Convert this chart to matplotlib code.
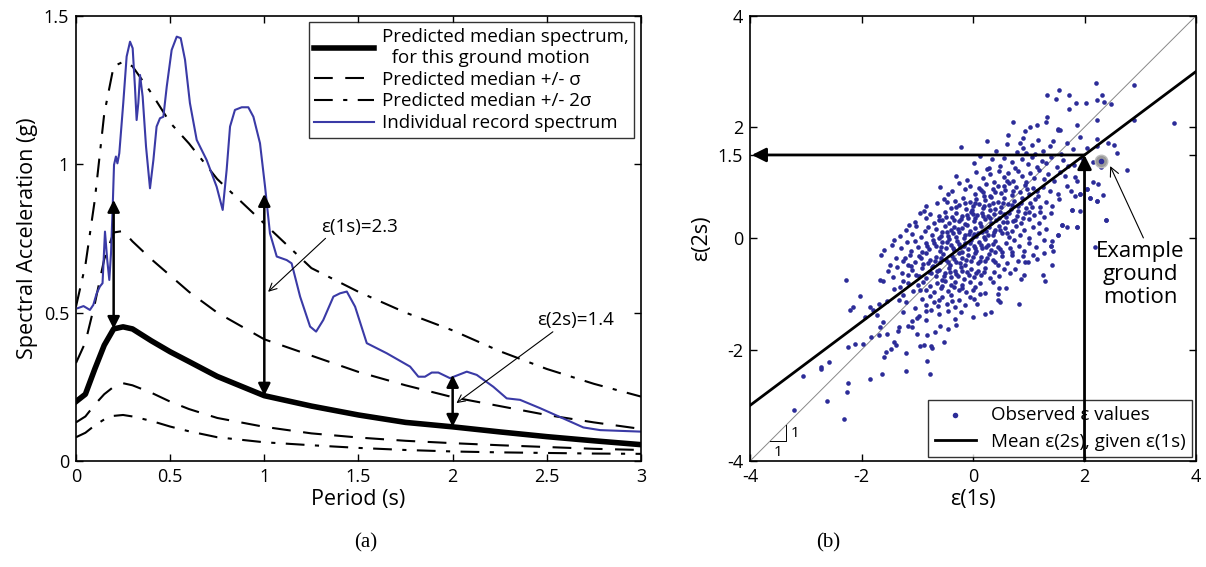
import numpy as np
import matplotlib.pyplot as plt
from matplotlib.ticker import FormatStrFormatter

plt.rcParams['font.family'] = ['Open Sans', 'DejaVu Sans']
plt.rcParams['axes.unicode_minus'] = False

# --- (a) predicted spectrum and one record ---
T_pred = [0, 0.05, 0.1, 0.15, 0.2, 0.25, 0.3, 0.4, 0.5, 0.6, 0.75, 1.0,
          1.25, 1.5, 1.75, 2.0, 2.25, 2.5, 2.75, 3.0]
sa_median = [0.20, 0.225, 0.31, 0.39, 0.445, 0.452, 0.445, 0.405, 0.368, 0.335,
             0.285, 0.22, 0.185, 0.155, 0.13, 0.115, 0.098, 0.082, 0.068, 0.055]
sa_plus1 = [0.33, 0.40, 0.53, 0.68, 0.77, 0.775, 0.74, 0.68, 0.625, 0.57,
            0.50, 0.41, 0.355, 0.30, 0.255, 0.215, 0.185, 0.155, 0.13, 0.108]
sa_plus2 = [0.52, 0.66, 0.88, 1.17, 1.33, 1.345, 1.33, 1.24, 1.14, 1.07,
            0.95, 0.80, 0.65, 0.57, 0.50, 0.44, 0.37, 0.31, 0.26, 0.217]
sa_minus1 = [0.13, 0.15, 0.19, 0.225, 0.25, 0.262, 0.255, 0.23, 0.20, 0.175,
             0.145, 0.115, 0.093, 0.079, 0.068, 0.06, 0.053, 0.047, 0.041, 0.037]
sa_minus2 = [0.08, 0.095, 0.12, 0.14, 0.152, 0.155, 0.15, 0.135, 0.116, 0.10,
             0.08, 0.063, 0.053, 0.044, 0.037, 0.032, 0.029, 0.027, 0.025, 0.024]

T_rec = [0.01, 0.04, 0.074, 0.092, 0.11, 0.127, 0.141, 0.154, 0.166, 0.177,
         0.186, 0.195, 0.202, 0.212, 0.22, 0.23, 0.251, 0.269, 0.287, 0.301,
         0.313, 0.322, 0.331, 0.340, 0.354, 0.372, 0.393, 0.411, 0.428, 0.446,
         0.464, 0.482, 0.508, 0.535, 0.556, 0.579, 0.605, 0.641, 0.694, 0.747,
         0.779, 0.80, 0.818, 0.844, 0.88, 0.915, 0.942, 0.977, 1.004, 1.03,
         1.066, 1.119, 1.145, 1.19, 1.243, 1.275, 1.313, 1.367, 1.402, 1.438,
         1.482, 1.544, 1.65, 1.774, 1.818, 1.853, 1.889, 1.924, 1.986, 2.075,
         2.128, 2.216, 2.287, 2.358, 2.464, 2.606, 2.694, 2.783, 2.995]
sa_rec = [0.515, 0.522, 0.509, 0.526, 0.565, 0.588, 0.599, 0.773, 0.677, 0.61,
          0.70, 0.857, 0.998, 1.026, 1.003, 1.037, 1.206, 1.363, 1.413, 1.391,
          1.262, 1.149, 1.206, 1.301, 1.228, 1.059, 0.919, 1.014, 1.127, 1.155,
          1.160, 1.262, 1.385, 1.43, 1.425, 1.352, 1.206, 1.082, 1.014, 0.924,
          0.846, 0.981, 1.127, 1.183, 1.192, 1.192, 1.160, 1.071, 0.924, 0.767,
          0.689, 0.677, 0.666, 0.554, 0.453, 0.436, 0.475, 0.554, 0.565, 0.571,
          0.52, 0.397, 0.363, 0.318, 0.284, 0.284, 0.298, 0.298, 0.279, 0.301,
          0.29, 0.25, 0.211, 0.206, 0.178, 0.138, 0.113, 0.104, 0.099]

# epsilon arrows: period, bottom (median), top (record)
eps_T = [0.2, 1.0, 2.0]
eps_bot = [0.445, 0.22, 0.115]
eps_top = [0.88, 0.90, 0.29]

# --- (b) observed epsilon pairs (eps at 1 s, eps at 2 s) ---
obs_pairs = [
    # upper tail
    (2.20, 2.79), (2.89, 2.76), (1.33, 2.58), (1.55, 2.66), (1.72, 2.58), (1.48, 2.51),
    (1.84, 2.43), (2.32, 2.58), (2.22, 2.48), (2.35, 2.45), (2.48, 2.42), (1.72, 2.33),
    (2.02, 2.43), (2.22, 2.12), (2.89, 2.12), (3.61, 2.08), (0.72, 2.10), (1.33, 2.18),
    (1.30, 2.10), (1.14, 2.03), (1.03, 2.01), (1.86, 2.03), (1.52, 1.97), (0.93, 1.93),
    (1.52, 1.94), (1.56, 1.94), (1.92, 1.82), (1.44, 1.75), (1.17, 1.77), (0.84, 1.72),
    (0.90, 1.81), (0.63, 1.85), (2.22, 1.78),
    # 1.5 .. 1.75
    (-0.21, 1.64), (0.25, 1.76), (0.42, 1.58), (0.61, 1.70), (0.78, 1.55), (0.90, 1.62),
    (1.05, 1.68), (1.25, 1.57), (1.38, 1.66), (1.58, 1.52), (1.69, 1.72), (1.80, 1.60),
    (2.05, 1.63), (2.43, 1.72), (2.53, 1.68), (2.23, 1.66), (0.95, 1.53), (1.12, 1.51),
    # 1.25 .. 1.5
    (0.13, 1.48), (0.34, 1.42), (0.02, 1.35), (0.48, 1.30), (0.55, 1.45), (0.70, 1.38),
    (0.76, 1.27), (0.88, 1.43), (0.98, 1.33), (1.06, 1.47), (1.15, 1.29), (1.23, 1.40),
    (1.31, 1.35), (1.40, 1.47), (1.50, 1.28), (1.62, 1.41), (1.70, 1.30), (1.82, 1.32),
    (2.15, 1.37), (2.29, 1.28), (2.59, 1.54), (0.28, 1.26), (1.95, 1.45),
    # 1.0 .. 1.25
    (-0.30, 1.12), (-0.10, 1.05), (0.05, 1.20), (0.18, 1.08), (0.30, 1.15), (0.38, 1.02),
    (0.47, 1.22), (0.56, 1.10), (0.63, 1.17), (0.72, 1.04), (0.80, 1.21), (0.87, 1.12),
    (0.95, 1.01), (1.02, 1.18), (1.10, 1.08), (1.18, 1.23), (1.27, 1.06), (1.35, 1.15),
    (1.45, 1.03), (1.56, 1.20), (1.83, 1.10), (1.87, 1.03), (2.15, 1.02), (2.77, 1.23),
    (0.60, 1.03), (0.25, 1.24), (1.65, 1.12),
    # 0.75 .. 1.0
    (-0.60, 0.92), (-0.45, 0.80), (-0.38, 0.85), (-0.26, 0.99), (-0.15, 0.88), (-0.05, 0.95),
    (0.03, 0.79), (0.10, 0.90), (0.17, 0.83), (0.24, 0.97), (0.31, 0.77), (0.36, 0.89),
    (0.44, 0.94), (0.50, 0.81), (0.58, 0.87), (0.64, 0.99), (0.70, 0.78), (0.77, 0.92),
    (0.85, 0.84), (0.93, 0.96), (1.00, 0.80), (1.08, 0.90), (1.17, 0.77), (1.26, 0.93),
    (1.38, 0.85), (1.52, 0.79), (1.69, 0.95), (1.76, 0.86), (1.91, 0.80), (2.05, 0.88),
    (2.24, 0.97), (2.34, 0.78), (1.83, 0.76), (0.20, 0.76),
    # 0.5 .. 0.75
    (-0.85, 0.58), (-0.65, 0.64), (-0.52, 0.71), (-0.46, 0.65), (-0.40, 0.55), (-0.33, 0.68),
    (-0.25, 0.60), (-0.18, 0.73), (-0.12, 0.52), (-0.06, 0.66), (0.00, 0.58), (0.06, 0.71),
    (0.11, 0.62), (0.17, 0.54), (0.22, 0.69), (0.28, 0.60), (0.33, 0.74), (0.39, 0.52),
    (0.44, 0.65), (0.50, 0.57), (0.56, 0.72), (0.62, 0.61), (0.68, 0.53), (0.74, 0.67),
    (0.81, 0.58), (0.88, 0.72), (0.95, 0.55), (1.03, 0.64), (1.12, 0.70), (1.20, 0.56),
    (1.30, 0.66), (1.42, 0.59), (1.55, 0.70), (1.77, 0.51), (2.10, 0.72), (2.22, 0.68),
    (-0.02, 0.51), (0.30, 0.51),
    # 0.25 .. 0.5
    (-1.05, 0.30), (-0.95, 0.45), (-0.85, 0.36), (-0.78, 0.43), (-0.70, 0.28), (-0.62, 0.40),
    (-0.55, 0.33), (-0.50, 0.47), (-0.43, 0.27), (-0.38, 0.38), (-0.31, 0.45), (-0.26, 0.31),
    (-0.20, 0.41), (-0.14, 0.26), (-0.09, 0.36), (-0.03, 0.48), (0.02, 0.32), (0.07, 0.42),
    (0.12, 0.28), (0.16, 0.46), (0.21, 0.35), (0.27, 0.40), (0.32, 0.27), (0.37, 0.44),
    (0.42, 0.33), (0.48, 0.48), (0.53, 0.29), (0.59, 0.39), (0.65, 0.46), (0.71, 0.31),
    (0.78, 0.40), (0.86, 0.27), (0.93, 0.45), (1.01, 0.35), (1.10, 0.42), (1.19, 0.28),
    (1.28, 0.38), (1.40, 0.46), (1.59, 0.25), (1.92, 0.49), (2.38, 0.33), (-0.88, 0.49),
    (0.46, 0.37), (0.00, 0.44),
    # 0 .. 0.25
    (-1.31, 0.04), (-1.20, 0.15), (-1.10, 0.08), (-1.02, 0.22), (-0.93, 0.02), (-0.86, 0.13),
    (-0.80, 0.20), (-0.73, 0.06), (-0.67, 0.17), (-0.61, 0.01), (-0.56, 0.11), (-0.50, 0.23),
    (-0.45, 0.05), (-0.40, 0.15), (-0.35, 0.21), (-0.30, 0.03), (-0.25, 0.12), (-0.20, 0.19),
    (-0.15, 0.07), (-0.10, 0.24), (-0.06, 0.14), (-0.01, 0.02), (0.04, 0.18), (0.09, 0.09),
    (0.14, 0.22), (0.19, 0.03), (0.24, 0.13), (0.29, 0.20), (0.35, 0.06), (0.40, 0.16),
    (0.46, 0.23), (0.52, 0.09), (0.58, 0.18), (0.64, 0.02), (0.70, 0.14), (0.77, 0.22),
    (0.84, 0.07), (0.92, 0.16), (1.00, 0.01), (1.08, 0.20), (1.18, 0.10), (1.30, 0.17),
    (1.53, 0.07), (1.68, 0.21), (1.86, 0.20), (-1.15, 0.24), (0.02, 0.08),
    # -0.25 .. 0
    (-1.46, -0.11), (-1.41, -0.03), (-1.19, -0.07), (-1.30, -0.18), (-1.12, -0.22),
    (-1.05, -0.04), (-0.98, -0.15), (-0.91, -0.24), (-0.85, -0.08), (-0.79, -0.19),
    (-0.72, -0.02), (-0.66, -0.13), (-0.60, -0.23), (-0.55, -0.06), (-0.49, -0.17),
    (-0.44, -0.01), (-0.39, -0.12), (-0.34, -0.21), (-0.29, -0.05), (-0.24, -0.15),
    (-0.19, -0.24), (-0.14, -0.09), (-0.09, -0.19), (-0.04, -0.03), (0.01, -0.13),
    (0.06, -0.22), (0.11, -0.07), (0.16, -0.17), (0.21, -0.01), (0.27, -0.11),
    (0.33, -0.20), (0.39, -0.05), (0.45, -0.15), (0.52, -0.24), (0.59, -0.08),
    (0.66, -0.18), (0.74, -0.03), (0.82, -0.13), (0.91, -0.22), (1.00, -0.09),
    (1.13, -0.16), (1.27, -0.02), (1.40, -0.14), (2.19, -0.16), (1.27, -0.26),
    (1.43, -0.23), (-1.60, -0.20),
    # -0.5 .. -0.25
    (-1.65, -0.30), (-1.49, -0.47), (-1.38, -0.36), (-1.26, -0.41), (-1.23, -0.35),
    (-1.17, -0.47), (-1.11, -0.50), (-1.13, -0.29), (-1.04, -0.42), (-0.97, -0.31),
    (-0.90, -0.46), (-0.84, -0.27), (-0.78, -0.38), (-0.72, -0.49), (-0.66, -0.33),
    (-0.60, -0.43), (-0.54, -0.28), (-0.48, -0.39), (-0.42, -0.48), (-0.37, -0.31),
    (-0.31, -0.42), (-0.26, -0.26), (-0.20, -0.36), (-0.15, -0.47), (-0.09, -0.30),
    (-0.03, -0.40), (0.03, -0.27), (0.09, -0.45), (0.15, -0.34), (0.22, -0.41),
    (0.29, -0.28), (0.36, -0.38), (0.44, -0.48), (0.52, -0.32), (0.61, -0.44),
    (0.70, -0.30), (0.80, -0.40), (0.93, -0.43), (0.99, -0.43), (1.08, -0.29),
    (1.14, -0.37), (1.41, -0.47),
    # -0.75 .. -0.5
    (-1.52, -0.58), (-1.44, -0.69), (-1.36, -0.52), (-1.28, -0.63), (-1.17, -0.65),
    (-1.03, -0.65), (-0.97, -0.67), (-1.10, -0.56), (-0.91, -0.53), (-0.85, -0.72),
    (-0.79, -0.60), (-0.73, -0.51), (-0.67, -0.68), (-0.61, -0.57), (-0.56, -0.74),
    (-0.50, -0.62), (-0.44, -0.53), (-0.39, -0.70), (-0.33, -0.59), (-0.27, -0.67),
    (-0.22, -0.52), (-0.16, -0.73), (-0.10, -0.61), (-0.04, -0.55), (0.02, -0.70),
    (0.08, -0.58), (0.15, -0.66), (0.22, -0.53), (0.30, -0.72), (0.38, -0.60),
    (0.47, -0.68), (0.56, -0.55), (0.67, -0.63), (0.76, -0.55), (0.92, -0.66),
    (1.26, -0.66), (0.86, -0.73),
    # -1.0 .. -0.75
    (-2.28, -0.74), (-1.67, -0.74), (-1.61, -0.77), (-1.25, -0.77), (-1.17, -0.80),
    (-1.41, -0.91), (-1.31, -0.88), (-1.08, -0.95), (-0.98, -0.84), (-0.90, -0.78),
    (-0.84, -0.93), (-0.77, -0.86), (-0.70, -0.97), (-0.64, -0.80), (-0.58, -0.90),
    (-0.51, -0.76), (-0.45, -0.95), (-0.39, -0.84), (-0.32, -0.78), (-0.26, -0.92),
    (-0.19, -0.83), (-0.12, -0.97), (-0.05, -0.79), (0.03, -0.88), (0.12, -0.81),
    (0.22, -0.98), (0.59, -0.89), (0.47, -0.89), (1.29, -0.77), (0.35, -0.78),
    # -1.25 .. -1.0
    (-2.03, -1.04), (-1.85, -1.23), (-1.69, -1.18), (-1.33, -1.11), (-1.26, -1.02),
    (-1.20, -1.14), (-1.04, -1.25), (-0.92, -1.08), (-0.85, -1.19), (-0.78, -1.03),
    (-0.70, -1.15), (-0.63, -1.22), (-0.55, -1.06), (-0.47, -1.17), (-0.40, -1.01),
    (-0.33, -1.24), (-0.25, -1.10), (-0.15, -1.20), (-0.05, -1.05), (0.07, -1.17),
    (0.01, -1.09), (0.13, -1.00), (0.45, -1.00), (0.44, -1.11), (0.48, -1.14),
    (0.83, -1.17), (-1.55, -1.12),
    # -1.5 .. -1.25
    (-2.21, -1.29), (-2.16, -1.23), (-1.94, -1.42), (-1.79, -1.29), (-1.72, -1.38),
    (-1.61, -1.50), (-1.01, -1.43), (-0.97, -1.40), (-1.09, -1.49), (-0.75, -1.28),
    (-0.62, -1.35), (-0.45, -1.30), (-0.33, -1.45), (-0.22, -1.32), (-0.01, -1.42),
    (0.32, -1.33), (0.22, -1.36), (-1.25, -1.33), (-0.85, -1.47),
    # -2.0 .. -1.5
    (-1.67, -1.59), (-1.55, -1.71), (-1.35, -1.66), (-1.33, -1.60), (-1.17, -1.57),
    (-1.10, -1.59), (-1.01, -1.72), (-0.68, -1.68), (-0.60, -1.57), (-0.45, -1.62),
    (-0.30, -1.55), (-1.68, -1.74), (-1.83, -1.78), (-2.24, -1.96), (-2.12, -1.90),
    (-1.97, -1.89), (-1.41, -1.86), (-1.47, -1.98), (-1.38, -1.92), (-0.95, -1.93),
    (-0.88, -1.91), (-0.76, -1.94), (-0.73, -1.97), (-0.53, -1.86), (-0.83, -1.74),
    # lower tail
    (-1.56, -2.04), (-1.60, -2.13), (-1.20, -2.06), (-0.82, -2.20), (-2.59, -2.23),
    (-2.73, -2.35), (-2.73, -2.31), (-3.05, -2.47), (-1.85, -2.53), (-1.64, -2.44),
    (-1.20, -2.39), (-0.78, -2.43), (-2.27, -2.76), (-2.25, -2.59), (-2.62, -2.92),
    (-3.21, -3.08), (-2.31, -3.25),
    # right-hand stragglers
    (2.38, 0.33), (1.86, 0.20), (1.77, 0.51), (2.22, 0.68), (2.10, 0.72), (2.05, 0.88),
    (1.91, 0.80), (1.59, 0.25), (1.53, 0.07), (1.41, -0.05), (1.40, -0.14),
    # dense core
    (-0.57, 0.05), (-0.47, 0.12), (-0.36, 0.09), (-0.27, 0.17), (-0.17, 0.01), (-0.07, 0.08),
    (0.06, 0.04), (0.16, 0.12), (0.26, 0.06), (0.37, 0.11), (0.49, 0.15), (0.61, 0.10),
    (-0.82, -0.14), (-0.70, -0.09), (-0.58, -0.16), (-0.47, -0.07), (-0.36, -0.17),
    (-0.26, -0.10), (-0.16, -0.14), (-0.06, -0.08), (0.04, -0.18), (0.14, -0.11),
    (0.24, -0.16), (0.36, -0.10), (0.48, -0.19),
    (-0.93, -0.36), (-0.81, -0.44), (-0.69, -0.40), (-0.57, -0.36), (-0.45, -0.43),
    (-0.34, -0.37), (-0.23, -0.44), (-0.12, -0.38), (0.00, -0.34), (0.12, -0.40),
    (0.25, -0.35), (0.40, -0.42),
    (-0.75, -0.63), (-0.64, -0.58), (-0.53, -0.67), (-0.42, -0.61), (-0.30, -0.64),
    (-0.19, -0.58), (-0.07, -0.66), (0.05, -0.62), (0.19, -0.60),
    (-0.62, 0.33), (-0.48, 0.39), (-0.34, 0.34), (-0.22, 0.35), (-0.11, 0.42), (0.04, 0.37),
    (0.18, 0.41), (0.31, 0.36), (0.56, 0.44), (0.75, 0.34), (0.90, 0.37),
    (-0.30, 0.57), (-0.15, 0.63), (0.03, 0.64), (0.20, 0.58), (0.36, 0.64), (0.53, 0.63),
    (0.70, 0.60), (0.86, 0.63), (1.05, 0.56),
    (0.15, 0.87), (0.40, 0.84), (0.55, 0.95), (0.72, 0.85), (0.96, 0.88), (1.15, 0.85),
    (-0.55, -0.85), (-0.35, -0.88), (-0.20, -0.90), (-0.01, -0.93), (-0.95, -0.92),
    (-0.62, -1.10), (-0.37, -1.12), (-0.85, -1.30),
    (0.40, -0.24), (0.70, -0.25), (0.90, -0.32), (0.60, 0.29), (1.20, 0.47), (1.00, 0.48),
    (0.80, 0.50),
]
eps1_obs = np.array([p[0] for p in obs_pairs])
eps2_obs = np.array([p[1] for p in obs_pairs])

rho = 0.75          # slope of the conditional mean line
example_eps = (2.3, 1.4)
target_eps1 = 2.0
mean_line_x = [-4, 4]

blue = '#3a3aa6'
fig = plt.figure(figsize=(12.06, 5.67), dpi=100)
ax1 = fig.add_axes([0.063, 0.187, 0.4685, 0.785])
ax2 = fig.add_axes([0.622, 0.187, 0.3697, 0.785])

# ---------------- left panel ----------------
ax1.plot(T_pred, sa_median, color='k', lw=4, label='Predicted median spectrum,\n  for this ground motion')
ax1.plot(T_pred, sa_plus1, color='k', lw=1.5, dashes=(9, 6), label='Predicted median +/- σ')
ax1.plot(T_pred, sa_minus1, color='k', lw=1.5, dashes=(9, 6))
ax1.plot(T_pred, sa_plus2, color='k', lw=1.5, dashes=(9, 5, 2, 5), label='Predicted median +/- 2σ')
ax1.plot(T_pred, sa_minus2, color='k', lw=1.5, dashes=(9, 5, 2, 5))
ax1.plot(T_rec, sa_rec, color=blue, lw=1.5, label='Individual record spectrum')

for t, lo, hi in zip(eps_T, eps_bot, eps_top):
    ax1.annotate('', xy=(t, hi), xytext=(t, lo),
                 arrowprops=dict(arrowstyle='<|-|>', color='k', lw=1.8,
                                 mutation_scale=18, shrinkA=0, shrinkB=0))

ax1.annotate('ε(1s)=2.3', xy=(1.02, 0.57), xytext=(1.30, 0.79), fontsize=13.5,
             va='center', ha='left',
             arrowprops=dict(arrowstyle='->', color='k', lw=0.8, shrinkA=0, shrinkB=0,
                             relpos=(0.1, 0.0)))
ax1.annotate('ε(2s)=1.4', xy=(2.02, 0.195), xytext=(2.45, 0.475), fontsize=13.5,
             va='center', ha='left',
             arrowprops=dict(arrowstyle='->', color='k', lw=0.8, shrinkA=0, shrinkB=0,
                             relpos=(0.25, 0.0)))

ax1.set_xlim(0, 3)
ax1.set_ylim(0, 1.5)
ax1.set_xticks(np.arange(0, 3.01, 0.5))
ax1.set_yticks([0, 0.5, 1, 1.5])
ax1.xaxis.set_major_formatter(FormatStrFormatter('%g'))
ax1.yaxis.set_major_formatter(FormatStrFormatter('%g'))
ax1.set_xlabel('Period (s)', fontsize=15.5, labelpad=2)
ax1.set_ylabel('Spectral Acceleration (g)', fontsize=15.5, labelpad=4)
leg1 = ax1.legend(loc='upper right', fontsize=13.5, handlelength=3.2, frameon=True,
                  fancybox=False, edgecolor='k', borderaxespad=0.35, labelspacing=0.2,
                  handletextpad=0.4, borderpad=0.3)
leg1.get_frame().set_linewidth(1.0)

# ---------------- right panel ----------------
ax2.plot([-4, 4], [-4, 4], color='#888888', lw=0.7, zorder=2)
ax2.scatter(eps1_obs, eps2_obs, s=11, color='#2c2c98', lw=0, zorder=3,
            label='Observed ε values')
ax2.plot(mean_line_x, [rho * v for v in mean_line_x], color='k', lw=2, zorder=4,
         label='Mean ε(2s), given ε(1s)')
ax2.plot(*example_eps, 'o', ms=9, mfc='#9a9a9a', mec='#bcbcbc', mew=1, zorder=5)
ax2.plot(*example_eps, 'o', ms=3, color='#2c2c98', zorder=6)

target_eps2 = rho * target_eps1
ax2.annotate('', xy=(-3.97, target_eps2), xytext=(target_eps1, target_eps2),
             arrowprops=dict(arrowstyle='-|>', color='k', lw=2, mutation_scale=21,
                             shrinkA=0, shrinkB=0), zorder=7)
ax2.annotate('', xy=(target_eps1, target_eps2), xytext=(target_eps1, -4),
             arrowprops=dict(arrowstyle='-|>', color='k', lw=2, mutation_scale=21,
                             shrinkA=0, shrinkB=0), zorder=7)

ax2.annotate('Example\nground\nmotion', xy=(2.46, 1.30), xytext=(3.0, -0.65),
             fontsize=16, ha='center', va='center', linespacing=1.15,
             arrowprops=dict(arrowstyle='->', color='k', lw=0.8, shrinkA=0, shrinkB=0,
                             relpos=(0.55, 1.0)))

# slope marker on the 1:1 line
ax2.plot([-3.65, -3.35, -3.35], [-3.65, -3.65, -3.35], color='k', lw=0.7)
ax2.text(-3.28, -3.5, '1', fontsize=11, ha='left', va='center')
ax2.text(-3.5, -3.72, '1', fontsize=11, ha='center', va='top')

ax2.set_xlim(-4, 4)
ax2.set_ylim(-4, 4)
ax2.set_xticks([-4, -2, 0, 2, 4])
ax2.set_yticks([-4, -2, 0, 1.5, 2, 4])
ax2.xaxis.set_major_formatter(FormatStrFormatter('%g'))
ax2.yaxis.set_major_formatter(FormatStrFormatter('%g'))
ax2.set_xlabel('ε(1s)', fontsize=15.5, labelpad=2)
ax2.set_ylabel('ε(2s)', fontsize=15.5, labelpad=4)
leg2 = ax2.legend(loc='lower right', fontsize=13.5, scatterpoints=1, markerscale=1.2,
                  frameon=True, fancybox=False, edgecolor='k', borderaxespad=0.2,
                  handlelength=2.2, borderpad=0.35, labelspacing=0.45)
leg2.get_frame().set_linewidth(1.0)
leg2.set_zorder(5)

for ax in (ax1, ax2):
    ax.tick_params(direction='in', top=True, right=True, labelsize=13, length=5,
                   width=1, pad=5)
    for sp in ax.spines.values():
        sp.set_linewidth(1.2)

fig.text(0.303, 0.035, '(a)', fontsize=15, family='Liberation Serif', ha='center')
fig.text(0.687, 0.035, '(b)', fontsize=15, family='Liberation Serif', ha='center')

fig.savefig('out.png', dpi=100)
